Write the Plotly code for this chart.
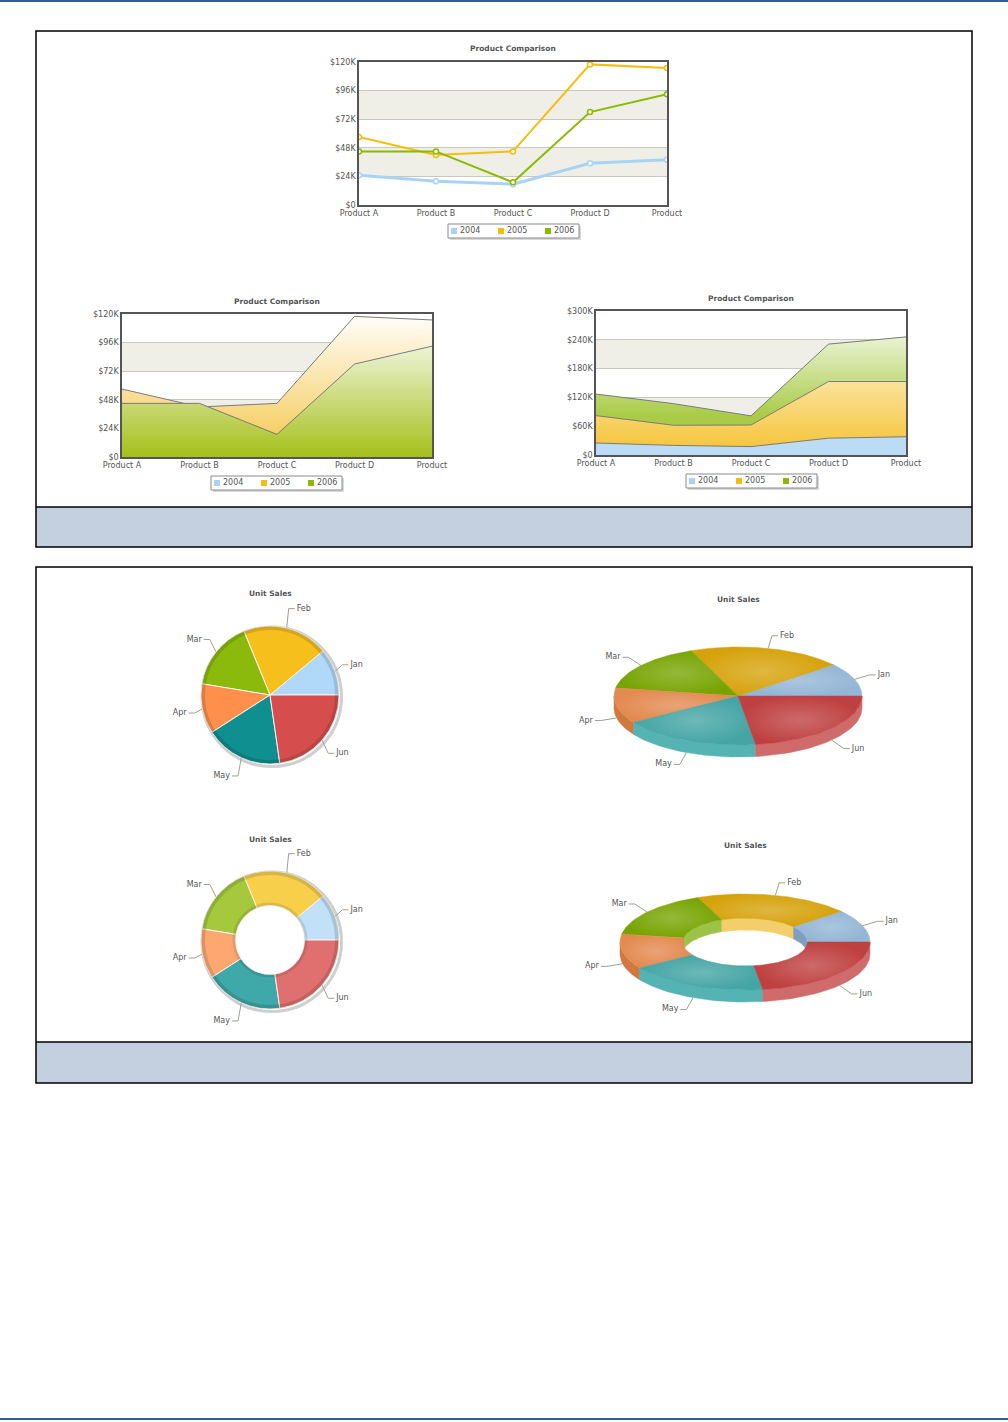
import numpy as np
import plotly.graph_objects as go

W, H = 1008, 1422

products = ['Product A', 'Product B', 'Product C', 'Product D', 'Product']
years = ['2004', '2005', '2006']
sales_2004 = [25000, 20000, 17500, 35000, 38000]
sales_2005 = [57000, 42000, 45000, 118000, 115000]
sales_2006 = [45000, 45000, 19000, 78000, 93000]

ticks_120 = [0, 24000, 48000, 72000, 96000, 120000]
ticktext_120 = ['$0', '$24K', '$48K', '$72K', '$96K', '$120K']
ticks_300 = [0, 60000, 120000, 180000, 240000, 300000]
ticktext_300 = ['$0', '$60K', '$120K', '$180K', '$240K', '$300K']

months = ['Jan', 'Feb', 'Mar', 'Apr', 'May', 'Jun']
units = [17, 31, 25, 18, 28, 35]

FONT = 'DejaVu Sans'
TXT = '#555555'


def dom_x(a, b):
    return [a / W, b / W]


def dom_y(top, bottom):
    return [1 - bottom / H, 1 - top / H]


def lighten(hexcol, f):
    r, g, b = (int(hexcol[i:i + 2], 16) for i in (1, 3, 5))
    return 'rgb(%d,%d,%d)' % tuple(int(v + (255 - v) * f) for v in (r, g, b))


fig = go.Figure()
shapes = []

# ---- line chart
line_cols = ['#a9d3f5', '#f6bd0f', '#8bba00']
series = [sales_2004, sales_2005, sales_2006]
for name, vals, col, w in zip(years, series, line_cols, [3, 2, 2]):
    fig.add_trace(go.Scatter(x=products, y=vals, mode='lines+markers', name=name,
                             line=dict(color=col, width=w),
                             marker=dict(size=5, color='white', line=dict(color=col, width=1.5)),
                             showlegend=False, xaxis='x', yaxis='y'))

# ---- overlapped areas
grads = [('#bcdcf5', '#eaf4fd', 40000), ('#f4c649', '#fffdf8', 118000), ('#a6c01a', '#eef4da', 95000)]
for name, vals, (c0, c1, top) in zip(years, series, grads):
    fig.add_trace(go.Scatter(x=products, y=vals, mode='lines', fill='tozeroy', name=name,
                             line=dict(color='#7a7a7a', width=1),
                             fillgradient=dict(type='vertical', colorscale=[[0, c0], [1, c1]],
                                               start=0, stop=top),
                             showlegend=False, xaxis='x2', yaxis='y2'))

# ---- stacked areas
sgrads = [('#bcdcf5', '#bcdcf5', 0, 40000), ('#f5c640', '#fbe39c', 20000, 155000),
          ('#a9cb45', '#e9f2d2', 80000, 245000)]
for name, vals, (c0, c1, lo, hi) in zip(years, series, sgrads):
    fig.add_trace(go.Scatter(x=products, y=vals, mode='lines', stackgroup='one', name=name,
                             line=dict(color='#7a7a7a', width=1),
                             fillgradient=dict(type='vertical', colorscale=[[0, c0], [1, c1]],
                                               start=lo, stop=hi),
                             showlegend=False, xaxis='x3', yaxis='y3'))


# ---- small boxed legends (swatch + year), drawn on the page overlay
def legend_box(x0, yc):
    shapes.append(dict(type='rect', xref='x4', yref='y4', layer='below',
                       x0=x0 - 4, x1=x0 + 127, y0=yc - 5, y1=yc + 9,
                       fillcolor='#d9d9d9', line=dict(width=0)))
    shapes.append(dict(type='rect', xref='x4', yref='y4', layer='below',
                       x0=x0 - 6, x1=x0 + 125, y0=yc - 7, y1=yc + 7,
                       fillcolor='white', line=dict(color='#8a8a8a', width=1)))
    xs = [x0 + 47 * i for i in range(len(years))]
    fig.add_trace(go.Scatter(x=xs, y=[yc] * len(years), mode='markers',
                             marker=dict(symbol='square', size=6, color=line_cols),
                             showlegend=False, hoverinfo='skip', xaxis='x4', yaxis='y4'))
    fig.add_trace(go.Scatter(x=[x + 6 for x in xs], y=[yc] * len(years), mode='text', text=years,
                             textposition='middle right',
                             textfont=dict(family=FONT, size=8, color=TXT),
                             showlegend=False, hoverinfo='skip', xaxis='x4', yaxis='y4'))


legend_box(454, 231)
legend_box(217, 483)
legend_box(692, 481)


# ---- pies
def pie_labels(labels, values, cx, cy, rx, ry, depth=0, gx=10, gy=8):
    cum = np.cumsum([0] + list(values)) / sum(values) * 2 * np.pi
    lx, ly, tx, ty, tp = [], [], [], [], []
    for i in range(len(labels)):
        m = (cum[i] + cum[i + 1]) / 2
        c, s = np.cos(m), np.sin(m)
        drop = depth if s < 0 else 0
        x0, y0 = cx + rx * c, cy - ry * s + drop
        x1, y1 = cx + (rx + gx) * c, cy - (ry + gy) * s + drop
        side = 1 if c >= 0 else -1
        x2 = x1 + 6 * side
        lx += [x0, x1, x2, None]
        ly += [y0, y1, y1, None]
        tx.append(x2 + 2 * side)
        ty.append(y1)
        tp.append('middle right' if side > 0 else 'middle left')
    fig.add_trace(go.Scatter(x=lx, y=ly, mode='lines', line=dict(color='#a0a090', width=1),
                             showlegend=False, hoverinfo='skip', xaxis='x4', yaxis='y4'))
    fig.add_trace(go.Scatter(x=tx, y=ty, mode='text', text=labels, textposition=tp,
                             textfont=dict(family=FONT, size=8, color=TXT),
                             showlegend=False, hoverinfo='skip', xaxis='x4', yaxis='y4'))


def pie2d(cx, cy, r, colors, hole=0):
    # soft shadow ring under the pie, bevel ring on top of it
    shapes.append(dict(type='circle', xref='x4', yref='y4', layer='below',
                       x0=cx - r + 1, x1=cx + r + 2.5, y0=cy - r + 1, y1=cy + r + 2.5,
                       line=dict(color='#cfcfcf', width=3)))
    shapes.append(dict(type='circle', xref='x4', yref='y4', layer='above',
                       x0=cx - r + 2, x1=cx + r - 2, y0=cy - r + 2, y1=cy + r - 2,
                       line=dict(color='rgba(0,0,0,0.13)', width=4)))
    if hole:
        hr = r * hole
        shapes.append(dict(type='circle', xref='x4', yref='y4', layer='above',
                           x0=cx - hr - 1.5, x1=cx + hr + 1.5, y0=cy - hr - 1.5, y1=cy + hr + 1.5,
                           line=dict(color='rgba(0,0,0,0.10)', width=3)))
    fig.add_trace(go.Pie(labels=months, values=units, sort=False, direction='counterclockwise',
                         rotation=90 - 360 * units[0] / sum(units), hole=hole, textinfo='none',
                         showlegend=False,
                         marker=dict(colors=colors, line=dict(color='#f4f4ee', width=1)),
                         domain=dict(x=dom_x(cx - r, cx + r), y=dom_y(cy - r, cy + r))))
    pie_labels(months, units, cx, cy, r, r, gx=8, gy=20)


def pie3d(cx, cy, rx, ry, depth, tops, sides, inner=None, hole=0.0):
    cum = np.cumsum([0] + list(units)) / sum(units) * 2 * np.pi
    polys = []
    if hole:
        for i in range(len(units)):
            lo, hi = max(cum[i], 0), min(cum[i + 1], np.pi)
            if hi > lo:
                t = np.linspace(lo, hi, 40)
                xs = cx + hole * rx * np.cos(t)
                ys = cy - hole * ry * np.sin(t)
                polys.append((np.r_[xs, xs[::-1]], np.r_[ys, ys[::-1] + depth], inner[i], 0.0))
    for i in range(len(units)):
        lo, hi = max(cum[i], np.pi), min(cum[i + 1], 2 * np.pi)
        if hi > lo:
            t = np.linspace(lo, hi, 40)
            xs = cx + rx * np.cos(t)
            ys = cy - ry * np.sin(t)
            polys.append((np.r_[xs, xs[::-1]], np.r_[ys, ys[::-1] + depth], sides[i], 0.0))
    for i in range(len(units)):
        t = np.linspace(cum[i], cum[i + 1], 60)
        xs = cx + rx * np.cos(t)
        ys = cy - ry * np.sin(t)
        if hole:
            xs = np.r_[xs, cx + hole * rx * np.cos(t[::-1])]
            ys = np.r_[ys, cy - hole * ry * np.sin(t[::-1])]
        else:
            xs = np.r_[xs, cx]
            ys = np.r_[ys, cy]
        polys.append((xs, ys, tops[i], 0.22))
    for xs, ys, col, glow in polys:
        kw = {}
        if glow:
            kw['fillgradient'] = dict(type='radial', colorscale=[[0, lighten(col, glow)], [1, col]])
        fig.add_trace(go.Scatter(x=np.r_[xs, xs[0]], y=np.r_[ys, ys[0]], mode='lines', fill='toself',
                                 fillcolor=col, line=dict(color=col, width=0.5),
                                 showlegend=False, hoverinfo='skip', xaxis='x4', yaxis='y4', **kw))
    pie_labels(months, units, cx, cy, rx, ry, depth=depth, gx=16, gy=13)


pie2d(270, 695, 69, ['#b0d8f8', '#f6bf1c', '#8cba0c', '#ff8f4a', '#0f8f8f', '#d64d4d'])
pie2d(270, 940, 69, ['#c2e0f8', '#f8cf4a', '#a6c83c', '#ffa770', '#3fa8a8', '#e07070'], hole=0.5)

tops3 = ['#94b6d5', '#d6a20b', '#78a403', '#e38a50', '#45a5a5', '#bf4040']
sides3 = ['#7f9fbf', '#b88a06', '#628800', '#d07840', '#55b3b3', '#cf6b6b']
inner3 = ['#7f9fbf', '#f2cf6a', '#9cc24a', '#d07840', '#55b3b3', '#cf6b6b']
pie3d(738, 696, 124, 49, 12, tops3, sides3)
pie3d(745, 942, 125, 48, 12, tops3, sides3, inner=inner3, hole=0.5)

# ---- frames, strips, titles
shapes += [
    dict(type='line', xref='paper', yref='paper', x0=0, x1=1, y0=1 - 1 / H, y1=1 - 1 / H,
         line=dict(color='#2f5d9c', width=2)),
    dict(type='line', xref='paper', yref='paper', x0=0, x1=1, y0=1 - 1419 / H, y1=1 - 1419 / H,
         line=dict(color='#2f5d9c', width=2)),
]
for top, strip, bottom in [(31, 507, 547), (567, 1042, 1083)]:
    shapes.append(dict(type='rect', xref='paper', yref='paper', layer='below',
                       x0=36 / W, x1=972 / W, y0=1 - bottom / H, y1=1 - strip / H,
                       fillcolor='#c4cfe0', line=dict(width=0)))
    shapes.append(dict(type='rect', xref='paper', yref='paper', layer='below',
                       x0=36 / W, x1=972 / W, y0=1 - bottom / H, y1=1 - top / H,
                       line=dict(color='black', width=1.5)))
    shapes.append(dict(type='line', xref='paper', yref='paper', layer='below',
                       x0=36 / W, x1=972 / W, y0=1 - strip / H, y1=1 - strip / H,
                       line=dict(color='black', width=1.5)))
# alternating bands
for ax, bands in [('', [(24000, 48000), (72000, 96000)]), ('2', [(24000, 48000), (72000, 96000)]),
                  ('3', [(60000, 120000), (180000, 240000)])]:
    for lo, hi in bands:
        shapes.append(dict(type='rect', xref='x%s domain' % ax, yref='y%s' % ax, layer='below',
                           x0=0, x1=1, y0=lo, y1=hi, fillcolor='#efefe7', line=dict(width=0)))

annotations = []
for x, y, t in [(513, 49, 'Product Comparison'), (277, 301, 'Product Comparison'),
                (751, 298, 'Product Comparison'), (270, 593, 'Unit Sales'), (738, 600, 'Unit Sales'),
                (270, 839, 'Unit Sales'), (745, 846, 'Unit Sales')]:
    annotations.append(dict(x=x / W, y=1 - y / H, xref='paper', yref='paper', text='<b>%s</b>' % t,
                            xanchor='center', yanchor='middle', showarrow=False,
                            font=dict(family=FONT, size=7.5, color=TXT)))


def cart_axes(xd, yd, ticks, ticktext, rng, n):
    ax = dict(domain=xd, type='category', range=[0, 4], showgrid=False, zeroline=False,
              showline=True, mirror=True, linecolor='#555555', linewidth=1.5, ticks='',
              tickfont=dict(family=FONT, size=8, color=TXT), fixedrange=True, anchor='y' + n)
    ay = dict(domain=yd, range=rng, tickvals=ticks, ticktext=ticktext, showgrid=True,
              gridcolor='#c8c8c0', zeroline=False, showline=True, mirror=True, linecolor='#555555',
              linewidth=1.5, ticks='', tickfont=dict(family=FONT, size=8, color=TXT),
              fixedrange=True, anchor='x' + n)
    return ax, ay


xa1, ya1 = cart_axes(dom_x(359, 667), dom_y(62, 205), ticks_120, ticktext_120, [0, 120000], '')
xa2, ya2 = cart_axes(dom_x(122, 432), dom_y(314, 457), ticks_120, ticktext_120, [0, 120000], '2')
xa3, ya3 = cart_axes(dom_x(596, 906), dom_y(311, 455), ticks_300, ticktext_300, [0, 300000], '3')

fig.update_layout(
    width=W, height=H, autosize=False, showlegend=False,
    margin=dict(l=0, r=0, t=0, b=0, autoexpand=False),
    paper_bgcolor='white', plot_bgcolor='rgba(0,0,0,0)',
    xaxis=xa1, yaxis=ya1, xaxis2=xa2, yaxis2=ya2, xaxis3=xa3, yaxis3=ya3,
    xaxis4=dict(domain=[0, 1], range=[0, W], visible=False, anchor='y4', fixedrange=True),
    yaxis4=dict(domain=[0, 1], range=[H, 0], visible=False, anchor='x4', fixedrange=True),
    shapes=shapes, annotations=annotations,
)

# the page has a default 8px body margin; drop it so the figure fills the window
fig.write_html("out.html", config={'displayModeBar': False},
               post_script="document.body.style.margin = '0px';")
